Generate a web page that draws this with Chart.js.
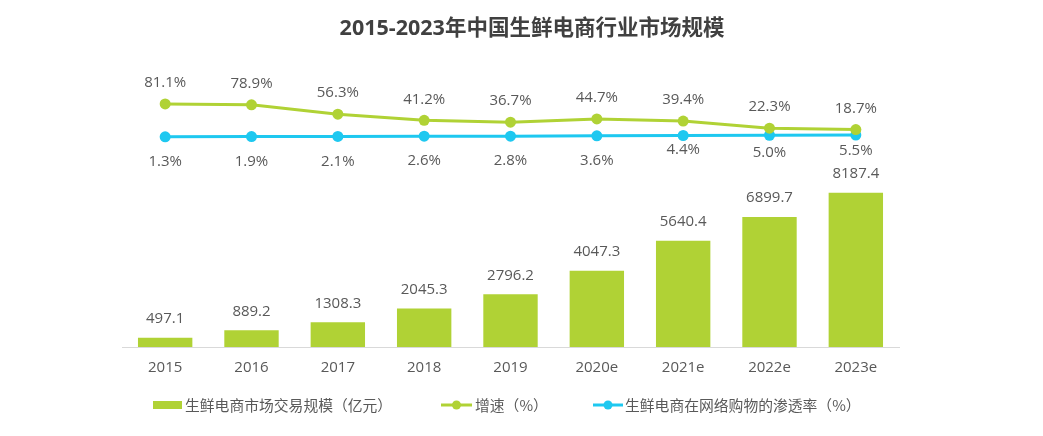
<!DOCTYPE html>
<html>
<head>
<meta charset="utf-8">
<script src="https://cdn.jsdelivr.net/npm/chart.js@4/dist/chart.umd.min.js"></script>
<style>
  body { margin: 0; background: #fff; }
</style>
</head>
<body>
<canvas id="myChart" width="1043" height="436"></canvas>
<script>
// data
var years = ['2015', '2016', '2017', '2018', '2019', '2020e', '2021e', '2022e', '2023e'];
var marketSize = [497.1, 889.2, 1308.3, 2045.3, 2796.2, 4047.3, 5640.4, 6899.7, 8187.4];
var growthRate = [81.1, 78.9, 56.3, 41.2, 36.7, 44.7, 39.4, 22.3, 18.7];
var penetration = [1.3, 1.9, 2.1, 2.6, 2.8, 3.6, 4.4, 5.0, 5.5];
var seriesNames = ['生鲜电商市场交易规模（亿元）', '增速（%）', '生鲜电商在网络购物的渗透率（%）'];
var chartTitle = '2015-2023年中国生鲜电商行业市场规模';

// label offsets (styling only)
var penLabelOffset = [25, 25, 25, 25, 25, 25, 14, 17, 16];

var green = '#b0d235';
var blue = '#1ec8f0';
var textColor = '#595959';
var FONT = "'Open Sans', 'Noto Sans CJK SC', sans-serif";
var CJK = "'Noto Sans CJK SC', sans-serif";

// title, value labels and legend are drawn by hand
var labelPlugin = {
    id: 'valueLabels',
    afterDatasetsDraw: function(chart){
        var ctx = chart.ctx;
        ctx.save();
        ctx.font = '15px ' + FONT;
        ctx.fillStyle = textColor;
        ctx.textAlign = 'center';
        ctx.textBaseline = 'middle';
        chart.data.datasets.forEach(function(ds, di){
            var meta = chart.getDatasetMeta(di);
            meta.data.forEach(function(el, i){
                var v = ds.data[i];
                if (di == 0) {
                    ctx.fillText(v.toFixed(1), el.x, el.y - 19);
                } else if (di == 1) {
                    ctx.fillText(v.toFixed(1) + '%', el.x, el.y - 21);
                } else {
                    ctx.fillText(v.toFixed(1) + '%', el.x, el.y + penLabelOffset[i]);
                }
            });
        });

        // title
        ctx.font = 'bold 21.5px ' + FONT;
        ctx.fillStyle = '#404040';
        ctx.fillText(chartTitle, 532, 29);

        // legend
        var ly = 405;
        ctx.textAlign = 'left';
        ctx.font = '14.8px ' + CJK;
        ctx.fillStyle = green;
        ctx.fillRect(153, 401, 29, 8);
        ctx.fillStyle = textColor;
        ctx.fillText(seriesNames[0], 185, ly);

        var items = [[441, 472, green, 475, seriesNames[1]], [593, 623, blue, 625, seriesNames[2]]];
        items.forEach(function(it){
            ctx.strokeStyle = it[2];
            ctx.lineWidth = 3;
            ctx.beginPath(); ctx.moveTo(it[0], ly); ctx.lineTo(it[1], ly); ctx.stroke();
            ctx.fillStyle = it[2];
            ctx.beginPath(); ctx.arc((it[0] + it[1]) / 2, ly, 4.5, 0, Math.PI * 2); ctx.fill();
            ctx.fillStyle = textColor;
            ctx.fillText(it[4], it[3], ly);
        });
        ctx.restore();
    }
};

var ctx = document.getElementById('myChart');
var myChart = new Chart(ctx, {
    type: 'bar',
    data: {
        labels: years,
        datasets: [{
            label: seriesNames[0],
            data: marketSize,
            backgroundColor: green,
            yAxisID: 'y',
            categoryPercentage: 1,
            barPercentage: 0.63,
            order: 3
        }, {
            type: 'line',
            label: seriesNames[1],
            data: growthRate,
            borderColor: green,
            backgroundColor: green,
            borderWidth: 3,
            pointRadius: 5.5,
            pointHoverRadius: 5.5,
            pointBorderWidth: 0,
            yAxisID: 'y2',
            order: 1
        }, {
            type: 'line',
            label: seriesNames[2],
            data: penetration,
            borderColor: blue,
            backgroundColor: blue,
            borderWidth: 3,
            pointRadius: 5.5,
            pointHoverRadius: 5.5,
            pointBorderWidth: 0,
            yAxisID: 'y2',
            order: 2
        }]
    },
    options: {
        responsive: false,
        animation: false,
        layout: { padding: { left: 122, right: 144, top: 60, bottom: 47 } },
        plugins: {
            title: { display: false },
            legend: { display: false },
            tooltip: { enabled: false }
        },
        scales: {
            x: {
                grid: { display: false, drawTicks: false },
                border: { display: true, color: '#d9d9d9', width: 1 },
                ticks: { color: textColor, font: { family: FONT, size: 15 }, padding: 12 }
            },
            y: {
                display: false,
                min: 0,
                max: 15240
            },
            y2: {
                display: false,
                min: -510,
                max: 188
            }
        }
    },
    plugins: [labelPlugin]
});
</script>
</body>
</html>
